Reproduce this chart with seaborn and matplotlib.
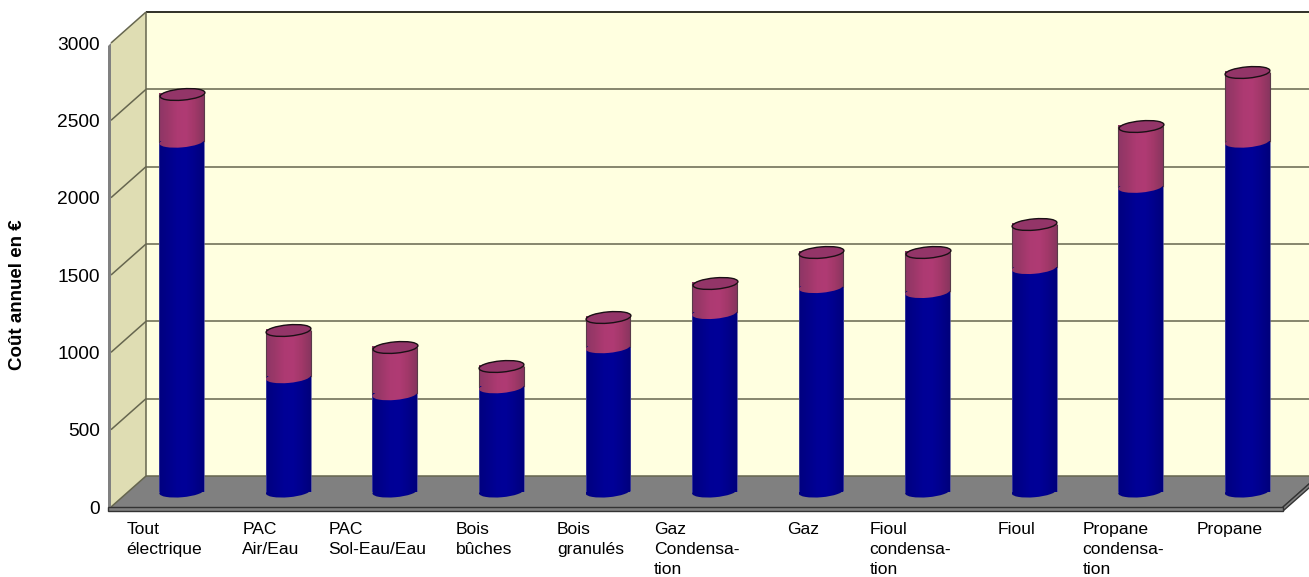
import numpy as np
import pandas as pd
import matplotlib
matplotlib.use('Agg')
import matplotlib.pyplot as plt
import seaborn as sns
from matplotlib.colors import LinearSegmentedColormap
from matplotlib.markers import MarkerStyle
from matplotlib.patches import Ellipse, Polygon
from matplotlib.transforms import Affine2D, IdentityTransform

# valeurs
energies = ['Tout\nélectrique', 'PAC\nAir/Eau', 'PAC\nSol-Eau/Eau', 'Bois\nbûches', 'Bois\ngranulés',
            'Gaz\nCondensa-\ntion', 'Gaz', 'Fioul\ncondensa-\ntion', 'Fioul', 'Propane\ncondensa-\ntion', 'Propane']
part_bleue = [2262, 739, 629, 674, 933, 1154, 1322, 1290, 1445, 1970, 2262]
part_rose = [311, 304, 304, 136, 195, 194, 227, 259, 285, 396, 453]
graduations = [0, 500, 1000, 1500, 2000, 2500, 3000]

LARG, HAUT = 1309, 577
PROF_X, PROF_Y = 35, 31
GRILLE = '#66664f'

sns.set_theme(style='white')
plt.rcParams['font.family'] = ['Liberation Sans', 'DejaVu Sans']

df = pd.DataFrame({'energie': energies, 'bleu': part_bleue, 'rose': part_rose})
df['total'] = df['bleu'] + df['rose']

fig = plt.figure(figsize=(LARG / 100, HAUT / 100), dpi=100, facecolor='white')
pos = [111 / LARG, 70 / HAUT, 1172 / LARG, 464 / HAUT]
ax = fig.add_axes(pos)
ax.set_xlim(-0.5, 10.5)
ax.set_ylim(0, 3000)
ax.patch.set_visible(False)
sns.despine(ax=ax, left=True, bottom=True, top=True, right=True)


def coin(xa, ya, prof=0.0):
    """Position en pixels d'un point de l'axe, reculé de prof dans la profondeur."""
    x, y = ax.transAxes.transform((xa, ya))
    return x + prof * PROF_X, y + prof * PROF_Y


def poly(points, couleur, bord='none', z=0.5):
    ax.add_patch(Polygon(points, closed=True, facecolor=couleur, edgecolor=bord, linewidth=1,
                         transform=IdentityTransform(), clip_on=False, zorder=z))


def trait(p1, p2, couleur=GRILLE, lw=1.1, z=1):
    ax.plot([p1[0], p2[0]], [p1[1], p2[1]], color=couleur, lw=lw, transform=IdentityTransform(),
            clip_on=False, zorder=z, solid_capstyle='butt')


# murs et sol
poly([coin(0, 0, 1), coin(1, 0, 1), coin(1, 1, 1), coin(0, 1, 1)], '#ffffe0')
poly([coin(0, 0), coin(0, 0, 1), coin(0, 1, 1), coin(0, 1)], '#dfddb3')
poly([coin(0, 0), coin(1, 0), coin(1, 0, 1), coin(0, 0, 1)], '#808080')

for v in graduations:
    ya = v / 3000
    trait(coin(0, ya), coin(0, ya, 1))
    trait(coin(0, ya, 1), coin(1, ya, 1))
trait(coin(0, 1, 1), coin(1, 1, 1), couleur='#33332a', lw=1.4)
trait(coin(0, 0, 1), coin(0, 1, 1))

# tranche du mur gauche et du sol
x0, y0 = coin(0, 0)
x1, y1 = coin(0, 1)
poly([(x0 - 3, y0 - 3), (x0, y0), (x1, y1), (x1 - 3, y1 - 3)], '#808080', z=1.5)
xd, yd = coin(1, 0)
poly([(x0 - 3, y0 - 4), (xd, yd - 4), (xd, yd), (x0 - 3, y0)], '#808080', bord='#333333', z=1.5)
poly([(xd, yd - 4), (xd + PROF_X, yd - 4 + PROF_Y), (xd + PROF_X, yd + PROF_Y), (xd, yd)], '#808080',
     bord='#333333', z=1.4)
trait(coin(1, 0), coin(1, 0, 1), couleur='#444444', lw=1)

ax.set_xticks(range(len(energies)))
ax.set_xticklabels(energies, fontsize=12.6, color='black', multialignment='left', linespacing=1.42, va='top')
ax.set_yticks(graduations)
ax.set_yticklabels([str(v) for v in graduations], fontsize=13.8, color='black')
ax.tick_params(axis='x', length=0, pad=11)
ax.tick_params(axis='y', length=0, pad=8)
fig.text(18 / LARG, 1 - 295 / HAUT, 'Coût annuel en €', rotation=90, ha='center', va='center',
         fontsize=13.5, fontweight='bold', color='black')

# les cylindres, sur un axe décalé à mi-profondeur
ax_b = fig.add_axes([pos[0] + 17.5 / LARG, pos[1] + 15.5 / HAUT, pos[2], pos[3]], zorder=3)
ax_b.patch.set_visible(False)
sns.barplot(data=df, x='energie', y='total', color='#aa3a72', saturation=1, width=0.42, errorbar=None,
            edgecolor='none', linewidth=0, ax=ax_b)
n_rose = len(ax_b.patches)
sns.barplot(data=df, x='energie', y='bleu', color='#000090', saturation=1, width=0.42, errorbar=None,
            edgecolor='none', linewidth=0, ax=ax_b)
ax_b.set_xlim(-0.5, 10.5)
ax_b.set_ylim(0, 3000)

cm_rose = LinearSegmentedColormap.from_list('rose', ['#8e3666', '#9c3869', '#ad3a72', '#b03b74', '#a23869', '#88355f'])
cm_bleu = LinearSegmentedColormap.from_list('bleu', ['#000080', '#00008a', '#000096', '#000098', '#00008c', '#00007c'])
degrade = np.linspace(0, 1, 64).reshape(1, -1)


def rond_degrade(i, valeur, x_g, larg, cm, z):
    """Ellipse remplie avec le dégradé du cylindre, centrée sur (i, valeur)."""
    centre = ax_b.transData.transform((i, valeur))
    rond = Ellipse(centre, 45, 11.5, angle=5, transform=IdentityTransform())
    im = ax_b.imshow(degrade, cmap=cm, aspect='auto', zorder=z,
                     extent=(x_g, x_g + larg, valeur - 100, valeur + 100))
    im.set_clip_path(rond)
    im.set_clip_box(fig.bbox)


for k, barre in enumerate(ax_b.patches):
    cm = cm_rose if k < n_rose else cm_bleu
    x_g, larg = barre.get_x(), barre.get_width()
    ax_b.imshow(degrade, cmap=cm, aspect='auto', extent=(x_g, x_g + larg, 0, barre.get_height()),
                zorder=2 + (k >= n_rose) * 0.4)
    if k < n_rose:
        ax_b.vlines([x_g, x_g + larg], df['bleu'][k], barre.get_height(), color='#5a3a4a', lw=0.8, zorder=2.6)
        rond_degrade(k, df['bleu'][k], x_g, larg, cm_rose, 2.5)
    else:
        ax_b.vlines([x_g, x_g + larg], 0, barre.get_height(), color='#4a4aa0', lw=0.5, zorder=2.45)
        rond_degrade(k - n_rose, 0, x_g, larg, cm_bleu, 1.5)

# dessus des cylindres
forme = MarkerStyle('o', transform=Affine2D().scale(1, 0.25).rotate_deg(5))
taille = (45 * 0.72) ** 2
pos_x = np.arange(len(energies))
sns.scatterplot(x=pos_x, y=df['total'].values, marker=forme, s=taille, color='#933568', edgecolor='#1a1015',
                linewidth=1, zorder=2.8, ax=ax_b, clip_on=False)
ax_b.set_xlim(-0.5, 10.5)
ax_b.set_ylim(0, 3000)
ax_b.axis('off')

fig.savefig('out.png', dpi=100)
